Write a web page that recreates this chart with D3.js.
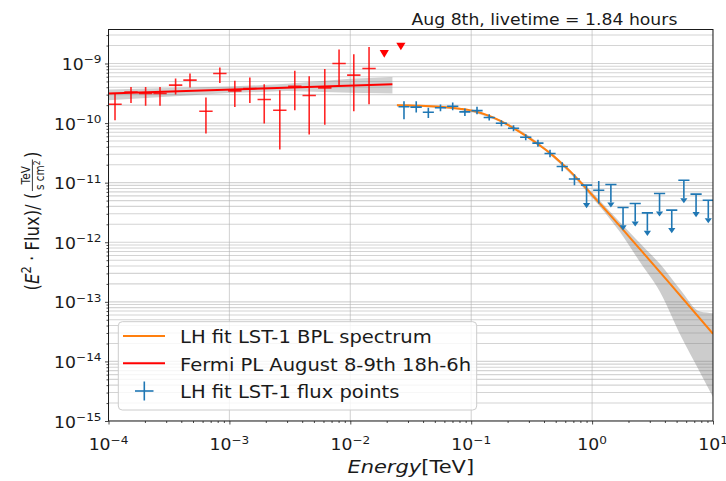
<!DOCTYPE html>
<html>
<head>
<meta charset="utf-8">
<script src="https://cdn.jsdelivr.net/npm/d3@7"></script>
<style>
  body { margin: 0; background: #fff; }
  svg { display: block; }
  text { font-family: "DejaVu Sans", sans-serif; fill: #1a1a1a; }
</style>
</head>
<body>
<svg id="chart" width="726" height="481"></svg>
<script>
// ---------- Fermi-LAT power-law fit and flux points ----------
const fermiE     = [1.132e-4, 1.535e-4, 2.028e-4, 2.667e-4, 3.589e-4, 4.721e-4, 6.397e-4, 8.337e-4, 1.109e-3,
                    1.476e-3, 1.941e-3, 2.612e-3, 3.475e-3, 4.571e-3, 6.152e-3, 8.072e-3, 1.069e-2, 1.429e-2];
const fermiELo   = [0.996e-4, 1.351e-4, 1.785e-4, 2.348e-4, 3.159e-4, 4.156e-4, 5.631e-4, 7.339e-4, 0.976e-3,
                    1.299e-3, 1.709e-3, 2.299e-3, 3.059e-3, 4.024e-3, 5.415e-3, 7.106e-3, 0.941e-2, 1.258e-2];
const fermiEHi   = [1.286e-4, 1.744e-4, 2.304e-4, 3.030e-4, 4.077e-4, 5.363e-4, 7.267e-4, 9.471e-4, 1.260e-3,
                    1.677e-3, 2.205e-3, 2.967e-3, 3.948e-3, 5.193e-3, 6.989e-3, 9.170e-3, 1.214e-2, 1.623e-2];
const fermiFlux  = [2.07e-10, 3.33e-10, 3.14e-10, 3.14e-10, 4.33e-10, 5.25e-10, 1.58e-10, 6.79e-10, 3.47e-10,
                    3.81e-10, 2.49e-10, 1.64e-10, 4.16e-10, 2.90e-10, 3.90e-10, 1.00e-9, 6.37e-10, 8.24e-10];
const fermiFluxLo = [1.12e-10, 2.18e-10, 1.95e-10, 1.95e-10, 3.02e-10, 3.95e-10, 6.70e-11, 4.72e-10, 1.87e-10,
                    2.18e-10, 9.84e-11, 3.61e-11, 1.64e-10, 6.44e-11, 9.33e-11, 4.16e-10, 1.58e-10, 2.07e-10];
const fermiFluxHi = [3.14e-10, 4.05e-10, 4.05e-10, 4.05e-10, 5.60e-10, 6.79e-10, 2.69e-10, 8.57e-10, 5.11e-10,
                    5.82e-10, 4.50e-10, 3.56e-10, 7.52e-10, 6.12e-10, 8.11e-10, 1.72e-9, 1.43e-9, 1.90e-9];
const fermiUlE    = [0.0191, 0.0262];
const fermiUlFlux = [1.45e-9, 1.93e-9];

const fermiModelE    = [1e-4, 0.0223];
const fermiModelFlux = [3.14e-10, 4.50e-10];
const fermiBandE     = [1e-4, 1e-3, 3e-3, 1e-2, 0.0223];
const fermiBandLo    = [2.42e-10, 3.20e-10, 3.45e-10, 3.24e-10, 3.14e-10];
const fermiBandHi    = [3.66e-10, 4.10e-10, 4.55e-10, 5.56e-10, 5.96e-10];

// ---------- LST-1 flux points (likelihood fit) ----------
const lstE      = [0.0278, 0.0351, 0.0442, 0.0557, 0.0703, 0.0887, 0.1117, 0.1409, 0.1778, 0.2239, 0.2825,
                   0.3565, 0.4487, 0.5662, 0.7145, 0.900, 1.135, 1.430, 1.803, 2.273, 2.865, 3.613, 4.559,
                   5.741, 7.244, 9.141];
const lstEdges  = [0.0248, 0.0311, 0.0394, 0.0496, 0.0626, 0.0790, 0.0995, 0.1255, 0.1583, 0.1995, 0.2515,
                   0.3174, 0.4000, 0.5040, 0.6360, 0.8019, 1.011, 1.274, 1.606, 2.024, 2.552, 3.217, 4.059,
                   5.116, 6.449, 8.137, 10.24];
const lstFlux   = [1.88e-10, 1.85e-10, 1.52e-10, 1.81e-10, 1.92e-10, 1.54e-10, 1.62e-10, 1.24e-10, 9.96e-11,
                   8.20e-11, 5.79e-11, 4.60e-11, 3.09e-11, 1.87e-11, 1.15e-11, 9.08e-12, 7.48e-12, 9.33e-12,
                   3.84e-12, 4.48e-12, 3.11e-12, 6.59e-12, 3.46e-12, 1.10e-11, 6.41e-12, 5.08e-12];
const lstFluxLo = [1.16e-10, 1.51e-10, 1.22e-10, 1.58e-10, 1.64e-10, 1.32e-10, 1.41e-10, 1.10e-10, 8.87e-11,
                   7.31e-11, 5.16e-11, 4.02e-11, 2.68e-11, 1.56e-11, 9.08e-12, null, 4.48e-12, null,
                   null, null, null, null, null, null, null, null];
const lstFluxHi = [2.33e-10, 2.33e-10, 1.80e-10, 2.05e-10, 2.22e-10, 1.76e-10, 1.88e-10, 1.41e-10, 1.12e-10,
                   9.22e-11, 6.51e-11, 5.26e-11, 3.58e-11, 2.21e-11, 1.39e-11, null, 1.07e-11, null,
                   null, null, null, null, null, null, null, null];
const lstIsUL   = [false, false, false, false, false, false, false, false, false, false, false, false, false,
                   false, false, true, false, true, true, true, true, true, true, true, true, true];

// ---------- LST-1 broken power-law model and its error band ----------
const bplE    = [0.0243, 0.0377, 0.0552, 0.0807, 0.1074, 0.1429, 0.1729, 0.2094, 0.2533, 0.3062, 0.3707,
                 0.4487, 0.5420, 0.6561, 0.7943, 0.9616, 1.161, 1.406, 2.489, 4.406, 10.0];
const bplFlux = [2.00e-10, 1.96e-10, 1.88e-10, 1.74e-10, 1.58e-10, 1.31e-10, 1.10e-10, 8.87e-11, 7.03e-11,
                 5.47e-11, 4.18e-11, 3.13e-11, 2.25e-11, 1.56e-11, 1.04e-11, 6.79e-12, 4.44e-12, 2.88e-12,
                 7.66e-13, 2.02e-13, 2.90e-14];
const bplBandE  = [0.0243, 0.0667, 0.1729, 0.4487, 0.9616, 1.702, 2.489, 3.648, 5.333, 7.801, 10.0];
const bplBandLo = [1.92e-10, 1.74e-10, 1.05e-10, 2.95e-11, 6.17e-12, 1.48e-12, 4.64e-13, 1.46e-13, 2.87e-14, 6.61e-15, 2.52e-15];
const bplBandHi = [2.07e-10, 1.88e-10, 1.14e-10, 3.31e-11, 7.48e-12, 2.17e-12, 9.66e-13, 4.30e-13, 1.63e-13, 6.87e-14, 6.46e-14];

// ---------- Axes ----------
const xTickValues = [1e-4, 1e-3, 1e-2, 1e-1, 1, 10];
const xTickExps   = ["\u22124", "\u22123", "\u22122", "\u22121", "0", "1"];
const yTickValues = [1e-15, 1e-14, 1e-13, 1e-12, 1e-11, 1e-10, 1e-9];
const yTickExps   = ["\u221215", "\u221214", "\u221213", "\u221212", "\u221211", "\u221210", "\u22129"];
const xDomain = [1e-4, 10];
const yDomain = [1e-15, 3.72e-9];

const titleText = "Aug 8th, livetime = 1.84 hours";
const legendLabels = ["LH fit LST-1 BPL spectrum", "Fermi PL August 8-9th 18h-6h", "LH fit LST-1 flux points"];

const C_ORANGE = "#ff7f0e", C_BLUE = "#1f77b4", C_RED = "#ff0000";
// the figure is rendered slightly wider than tall, so glyphs are widened horizontally
const SX = 1.15;

const svg = d3.select("#chart");
const plot = { left: 108.5, right: 713, top: 29.5, bottom: 421 };

const x = d3.scaleLog().domain(xDomain).range([plot.left, plot.right]);
const y = d3.scaleLog().domain(yDomain).range([plot.bottom, plot.top]);

svg.append("rect").attr("width", 726).attr("height", 481).attr("fill", "#fff");

svg.append("clipPath").attr("id", "clip")
  .append("rect")
  .attr("x", plot.left).attr("y", plot.top)
  .attr("width", plot.right - plot.left).attr("height", plot.bottom - plot.top);

// minor tick positions (2..9 within every decade of the domain)
function minorTicks(domain) {
  const out = [];
  const lo = Math.floor(Math.log10(domain[0])), hi = Math.ceil(Math.log10(domain[1]));
  for (let d = lo; d < hi; d++) {
    for (let m = 2; m <= 9; m++) {
      const v = m * Math.pow(10, d);
      if (v >= domain[0] && v <= domain[1]) out.push(v);
    }
  }
  return out;
}
const yMinor = minorTicks(yDomain);
const xMinor = minorTicks(xDomain);

// text placed at (px, py), widened by SX around its anchor
function placeText(sel, px, py) {
  return sel.attr("transform", `translate(${px},${py}) scale(${SX},1)`);
}

// ---------- Grid ----------
const grid = svg.append("g").attr("clip-path", "url(#clip)");
grid.selectAll("line.hgrid")
  .data(yTickValues.concat(yMinor))
  .join("line")
  .attr("x1", plot.left).attr("x2", plot.right)
  .attr("y1", d => y(d)).attr("y2", d => y(d))
  .attr("stroke", "#b0b0b0").attr("stroke-opacity", 0.55).attr("stroke-width", 1.1);
grid.selectAll("line.vgrid")
  .data(xTickValues)
  .join("line")
  .attr("y1", plot.top).attr("y2", plot.bottom)
  .attr("x1", d => x(d)).attr("x2", d => x(d))
  .attr("stroke", "#b0b0b0").attr("stroke-opacity", 0.55).attr("stroke-width", 1.1);

const layer = svg.append("g").attr("clip-path", "url(#clip)");

// ---------- Error bands ----------
const band = d3.area()
  .x(d => x(d.e)).y0(d => y(d.lo)).y1(d => y(d.hi));

layer.append("path")
  .datum(fermiBandE.map((e, i) => ({ e, lo: fermiBandLo[i], hi: fermiBandHi[i] })))
  .attr("d", band)
  .attr("fill", "#808080").attr("fill-opacity", 0.36);

layer.append("path")
  .datum(bplBandE.map((e, i) => ({ e, lo: bplBandLo[i], hi: bplBandHi[i] })))
  .attr("d", band.curve(d3.curveMonotoneX))
  .attr("fill", "#808080").attr("fill-opacity", 0.4);

// ---------- Model lines ----------
const line = d3.line().x(d => x(d.e)).y(d => y(d.f));

layer.append("path")
  .datum(fermiModelE.map((e, i) => ({ e, f: fermiModelFlux[i] })))
  .attr("d", line)
  .attr("fill", "none").attr("stroke", C_RED).attr("stroke-width", 2);

layer.append("path")
  .datum(bplE.map((e, i) => ({ e, f: bplFlux[i] })))
  .attr("d", line.curve(d3.curveMonotoneX))
  .attr("fill", "none").attr("stroke", C_ORANGE).attr("stroke-width", 2);

// ---------- Fermi flux points ----------
const fermiPts = fermiE.map((e, i) => ({
  e, lo: fermiELo[i], hi: fermiEHi[i], f: fermiFlux[i], flo: fermiFluxLo[i], fhi: fermiFluxHi[i]
}));
const fg = layer.append("g").attr("stroke", C_RED).attr("stroke-width", 1.6).attr("stroke-opacity", 0.85);
fg.selectAll("line.xe").data(fermiPts).join("line")
  .attr("x1", d => x(d.lo)).attr("x2", d => x(d.hi))
  .attr("y1", d => y(d.f)).attr("y2", d => y(d.f));
fg.selectAll("line.ye").data(fermiPts).join("line")
  .attr("x1", d => x(d.e)).attr("x2", d => x(d.e))
  .attr("y1", d => y(d.flo)).attr("y2", d => y(d.fhi));

layer.selectAll("path.ful")
  .data(fermiUlE.map((e, i) => ({ e, f: fermiUlFlux[i] })))
  .join("path")
  .attr("d", d => {
    const cx = x(d.e), cy = y(d.f);
    return `M${cx - 4.6},${cy - 3.8}L${cx + 4.6},${cy - 3.8}L${cx},${cy + 3.8}Z`;
  })
  .attr("fill", C_RED);

// ---------- LST-1 flux points ----------
const lstPts = lstE.map((e, i) => ({
  e, lo: lstEdges[i], hi: lstEdges[i + 1], f: lstFlux[i],
  flo: lstFluxLo[i], fhi: lstFluxHi[i], ul: lstIsUL[i]
}));
const lg = layer.append("g").attr("stroke", C_BLUE).attr("stroke-width", 1.6);
lg.selectAll("line.xe").data(lstPts).join("line")
  .attr("x1", d => x(d.lo) + 0.5).attr("x2", d => x(d.hi) - 0.5)
  .attr("y1", d => y(d.f)).attr("y2", d => y(d.f));
lg.selectAll("line.ye").data(lstPts).join("line")
  .attr("x1", d => x(d.e)).attr("x2", d => x(d.e))
  .attr("y1", d => d.ul ? y(d.f) : y(d.flo))
  .attr("y2", d => d.ul ? y(d.f * 0.5) : y(d.fhi));
layer.selectAll("path.caret").data(lstPts.filter(d => d.ul)).join("path")
  .attr("d", d => {
    const cx = x(d.e), cy = y(d.f * 0.5);
    return `M${cx - 3.6},${cy}L${cx + 3.6},${cy}L${cx},${cy + 5.2}Z`;
  })
  .attr("fill", C_BLUE);

// ---------- Frame, ticks ----------
const axisColor = "#1a1a1a";
const bottomAxis = svg.append("g").attr("transform", `translate(0,${plot.bottom})`);
bottomAxis.call(d3.axisBottom(x).tickValues(xTickValues).tickSize(3.5).tickFormat(""));
bottomAxis.append("g").call(d3.axisBottom(x).tickValues(xMinor).tickSize(2).tickFormat(""));
const leftAxis = svg.append("g").attr("transform", `translate(${plot.left},0)`);
leftAxis.call(d3.axisLeft(y).tickValues(yTickValues).tickSize(3.5).tickFormat(""));
leftAxis.append("g").call(d3.axisLeft(y).tickValues(yMinor).tickSize(2).tickFormat(""));
svg.selectAll(".domain").remove();
svg.selectAll(".tick line").attr("stroke", axisColor).attr("stroke-width", 0.8);

svg.append("rect")
  .attr("x", plot.left).attr("y", plot.top)
  .attr("width", plot.right - plot.left).attr("height", plot.bottom - plot.top)
  .attr("fill", "none").attr("stroke", axisColor).attr("stroke-width", 1);

// tick labels (10 with superscript exponent)
svg.selectAll("text.xtl").data(xTickValues).join("text")
  .attr("text-anchor", "middle").style("font-size", "15px")
  .each(function (d, i) {
    const t = d3.select(this);
    placeText(t, x(d), 450);
    t.append("tspan").text("10");
    t.append("tspan").attr("dy", -6.5).style("font-size", "10.5px").text(xTickExps[i]);
  });
svg.selectAll("text.ytl").data(yTickValues).join("text")
  .attr("text-anchor", "end").style("font-size", "15px")
  .each(function (d, i) {
    const t = d3.select(this);
    placeText(t, plot.left - 7, y(d) + 6.5);
    t.append("tspan").text("10");
    t.append("tspan").attr("dy", -6.5).style("font-size", "10.5px").text(yTickExps[i]);
  });

// x label
const xl = svg.append("text").attr("text-anchor", "middle").style("font-size", "17.5px");
xl.attr("transform", `translate(${(plot.left + plot.right) / 2},473) scale(1.2,1)`);
xl.append("tspan").style("font-style", "italic").text("Energy");
xl.append("tspan").text("[TeV]");

// y label: (E² · Flux)/ (TeV / s cm²)
const yl = svg.append("g");
const ylIn = yl.append("g");
const t1 = ylIn.append("text").attr("x", 0).attr("y", 0).style("font-size", "16.5px");
t1.append("tspan").text("(");
t1.append("tspan").style("font-style", "italic").text("E");
t1.append("tspan").attr("dy", -6.5).style("font-size", "11.5px").text("2");
t1.append("tspan").attr("dy", 6.5).text(" \u00b7 Flux)/ (");
const w1 = t1.node().getComputedTextLength();
const num = ylIn.append("text").attr("y", -7.3).attr("text-anchor", "middle").style("font-size", "10.5px").text("TeV");
const den = ylIn.append("text").attr("y", 4.4).attr("text-anchor", "middle").style("font-size", "10.5px");
den.append("tspan").text("s cm");
den.append("tspan").attr("dy", -3.5).style("font-size", "7.5px").text("2");
const fw = Math.max(num.node().getComputedTextLength(), den.node().getComputedTextLength()) + 2;
const fx = w1 + 1.5;
num.attr("x", fx + fw / 2);
den.attr("x", fx + fw / 2);
ylIn.append("line").attr("x1", fx).attr("x2", fx + fw).attr("y1", -5.3).attr("y2", -5.3)
  .attr("stroke", "#1a1a1a").attr("stroke-width", 0.8);
const t2 = ylIn.append("text").attr("x", fx + fw + 1.5).attr("y", 0).style("font-size", "16.5px").text(")");
const total = fx + fw + 1.5 + t2.node().getComputedTextLength();
ylIn.attr("transform", `translate(${-total / 2},0)`);
yl.attr("transform", `translate(38.5,221) scale(${SX},1) rotate(-90)`);

// title
placeText(svg.append("text"), 411.5, 25).style("font-size", "15px").text(titleText);

// ---------- Legend ----------
const leg = svg.append("g");
leg.append("rect")
  .attr("x", 118.3).attr("y", 321.7).attr("width", 358.4).attr("height", 88.3).attr("rx", 4)
  .attr("fill", "#fff").attr("fill-opacity", 0.8).attr("stroke", "#cccccc").attr("stroke-width", 1);
const rowY = [336, 363.3, 391];
leg.append("line").attr("x1", 123).attr("x2", 165).attr("y1", rowY[0]).attr("y2", rowY[0])
  .attr("stroke", C_ORANGE).attr("stroke-width", 2);
leg.append("line").attr("x1", 123).attr("x2", 165).attr("y1", rowY[1]).attr("y2", rowY[1])
  .attr("stroke", C_RED).attr("stroke-width", 2);
leg.append("line").attr("x1", 135).attr("x2", 153.5).attr("y1", rowY[2]).attr("y2", rowY[2])
  .attr("stroke", C_BLUE).attr("stroke-width", 1.6);
leg.append("line").attr("x1", 144.3).attr("x2", 144.3).attr("y1", rowY[2] - 9.5).attr("y2", rowY[2] + 9.5)
  .attr("stroke", C_BLUE).attr("stroke-width", 1.6);
leg.selectAll("text.lt").data(legendLabels).join("text")
  .style("font-size", "17px")
  .each(function (d, i) { placeText(d3.select(this), 180, rowY[i] + 7.2); })
  .text(d => d);
</script>
</body>
</html>
